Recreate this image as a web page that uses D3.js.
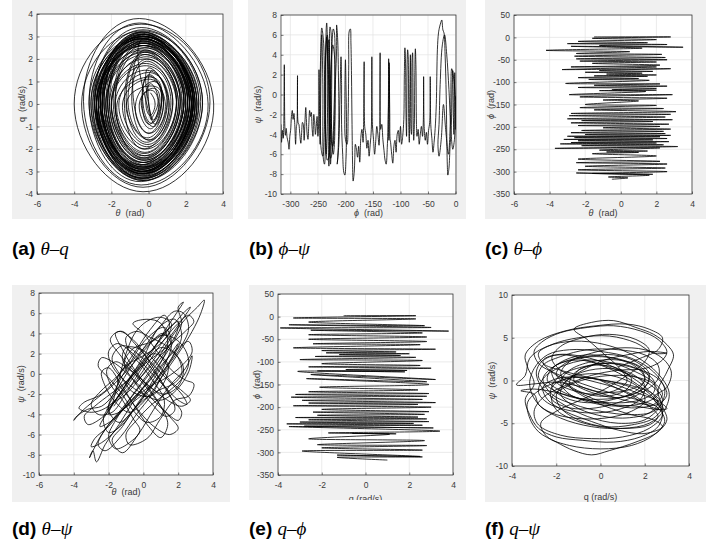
<!DOCTYPE html>
<html>
<head>
<meta charset="utf-8">
<script src="https://cdn.jsdelivr.net/npm/d3@7"></script>
<style>
  body { margin: 0; background: #fff; }
  svg { display: block; }
</style>
</head>
<body>
<svg id="fig" width="706" height="542"></svg>
<script>
// =========================
// TICKS / DOMAINS
// =========================
const ticksTheta = [-6, -4, -2, 0, 2, 4];
const ticksQ = [-4, -3, -2, -1, 0, 1, 2, 3, 4];
const ticksQ4 = [-4, -2, 0, 2, 4];
const ticksPhiX = [-300, -250, -200, -150, -100, -50, 0];
const ticksPhi = [-350, -300, -250, -200, -150, -100, -50, 0, 50];
const ticksPsi = [-10, -8, -6, -4, -2, 0, 2, 4, 6, 8];
const ticksPsi10 = [-10, -5, 0, 5, 10];
const domPhiX = [-317, 0.8];

const captionTags = ['(a)', '(b)', '(c)', '(d)', '(e)', '(f)'];
const captionVars = ['θ–q', 'ϕ–ψ', 'θ–ϕ', 'θ–ψ', 'q–ϕ', 'q–ψ'];

// =========================
// TRAJECTORIES
// =========================

// (a) theta vs q : loops, top -> right -> bottom -> left
const thetaQ = [
  [0.1,0.5],[0.35,0.0],[0.1,-0.5],[-0.15,0.05],
  [0.1,0.9],[0.55,0.0],[0.05,-0.9],[-0.35,0.0],
  [0.0,1.3],[0.8,0.1],[0.0,-1.3],[-0.7,0.0],
  [0.3,1.0],[0.7,0.0],[0.35,-0.9],[0.0,0.1],
  [0.2,1.5],[1.0,0.0],[0.0,-1.6],[-0.9,0.1],
  [-0.1,1.9],[1.3,0.1],[-0.2,-2.0],[-1.3,0.0],
  [-0.2,2.3],[1.6,0.0],[-0.3,-2.4],[-1.8,0.1],
  [-0.3,2.6],[1.9,0.1],[-0.3,-2.7],[-2.2,0.0],
  [-0.3,2.9],[2.2,0.0],[-0.4,-3.0],[-2.5,0.1],
  [-0.4,3.1],[2.4,0.1],[-0.4,-3.2],[-2.8,0.0],
  [-0.3,2.8],[2.1,0.0],[-0.3,-2.9],[-2.4,0.0],
  [-0.3,3.2],[2.6,0.0],[-0.3,-3.3],[-2.9,0.1],
  [-0.4,3.4],[2.9,0.1],[-0.4,-3.45],[-3.2,0.0],
  [-0.5,3.6],[3.2,0.0],[-0.4,-3.6],[-3.5,0.1],
  [-0.5,3.8],[3.5,0.0],[-0.3,-3.9],[-4.0,0.0],
  [-0.4,3.55],[3.3,0.1],[-0.3,-3.7],[-3.6,0.0],
  [-0.3,3.25],[2.9,0.0],[-0.3,-3.4],[-3.2,0.1],
  [-0.3,3.0],[2.5,0.0],[-0.4,-3.1],[-2.8,0.0],
  [-0.2,2.7],[2.1,0.1],[-0.3,-2.85],[-2.4,0.0],
  [-0.3,3.1],[2.3,0.0],[-0.3,-3.0],[-2.6,0.1],
  [-0.4,2.9],[2.5,0.0],[-0.4,-3.3],[-2.7,0.0],
  [-0.3,2.6],[2.0,0.1],[-0.2,-2.6],[-2.3,0.0],
  [-0.2,2.2],[1.7,0.0],[-0.2,-2.3],[-2.0,0.1],
  [-0.1,1.8],[1.3,0.0],[-0.1,-1.9],[-1.6,0.0],
  [0.0,1.4],[1.0,0.1],[0.0,-1.5],[-1.1,0.0],
  [-0.1,2.0],[1.5,0.0],[-0.2,-2.2],[-1.8,0.0],
  [-0.2,2.5],[1.9,0.1],[-0.3,-2.6],[-2.2,0.0],
  [-0.3,2.8],[2.2,0.0],[-0.3,-2.9],[-2.6,0.1],
  [-0.4,3.15],[2.4,0.0],[-0.3,-3.1],[-2.9,0.0],
  [-0.3,3.0],[2.7,0.1],[-0.4,-3.25],[-3.0,0.0],
  [-0.3,2.9],[2.4,0.0],[-0.3,-2.8],[-2.8,0.1],
  [-0.2,2.6],[2.1,0.0],[-0.4,-2.7],[-2.5,0.0],
  [-0.3,3.0],[2.3,0.1],[-0.3,-3.1],[-2.7,0.0],
  [-0.2,2.4],[1.9,0.0],[-0.3,-2.5],[-2.1,0.1],
  [-0.1,2.0],[1.5,0.0],[-0.2,-2.0],[-1.7,0.0],
  [0.1,1.2],[0.7,0.1],[0.1,-1.1],[-0.5,0.0],
  [0.3,0.7],[0.6,0.0],[0.3,-0.7],[0.0,0.0],
  [0.0,1.6],[1.1,0.0],[-0.1,-1.7],[-1.2,0.1],
  [-0.2,2.2],[1.6,0.1],[-0.2,-2.3],[-1.9,0.0],
  [-0.3,2.7],[2.0,0.0],[-0.3,-2.8],[-2.3,0.0],
  [-0.3,3.0],[2.3,0.0],[-0.4,-3.0],[-2.6,0.1],
  [-0.4,3.2],[2.6,0.1],[-0.4,-3.3],[-2.9,0.0],
  [-0.3,2.9],[2.4,0.0],[-0.3,-3.0],[-2.7,0.0],
  [-0.3,2.75],[2.2,0.1],[-0.3,-2.85],[-2.5,0.0],
  [-0.2,2.5],[1.8,0.0],[-0.3,-2.6],[-2.2,0.1],
  [-0.3,2.95],[2.1,0.0],[-0.3,-2.95],[-2.5,0.0],
  [-0.2,2.3],[1.7,0.1],[-0.2,-2.4],[-2.0,0.0],
  [-0.1,1.7],[1.2,0.0],[-0.1,-1.8],[-1.4,0.0],
  [0.1,1.1],[0.8,0.0],[0.2,-1.0],[-0.4,0.1],
  [0.2,0.6],[0.5,0.0],[0.2,-0.6],[-0.1,0.0],
  [-0.3,2.9],[2.3,0.1],[-0.3,-3.05],[-2.7,0.0],
  [-0.4,3.2],[2.5,0.0],[-0.3,-3.2],[-2.9,0.1],
  [-0.3,3.0],[2.2,0.1],[-0.4,-3.1],[-2.6,0.0],
  [-0.2,2.7],[2.0,0.0],[-0.3,-2.75],[-2.4,0.1],
  [-0.3,2.85],[2.4,0.1],[-0.3,-3.0],[-2.8,0.0],
  [-0.4,3.1],[2.6,0.0],[-0.4,-3.35],[-3.0,0.1],
  [-0.3,3.3],[2.8,0.1],[-0.3,-3.4],[-3.1,0.0],
  [-0.3,3.0],[2.4,0.0],[-0.4,-3.15],[-2.8,0.0],
  [-0.2,2.6],[1.9,0.1],[-0.2,-2.7],[-2.3,0.0],
  [-0.2,2.35],[1.7,0.0],[-0.3,-2.45],[-2.0,0.1],
  [-0.1,2.1],[1.5,0.1],[-0.2,-2.15],[-1.8,0.0],
  [-0.1,1.5],[1.1,0.0],[0.0,-1.6],[-1.2,0.0],
  [0.2,0.8],[0.7,0.1],[0.2,-0.85],[-0.3,0.0],
  [0.0,1.25],[0.9,0.0],[0.1,-1.3],[-0.8,0.1],
  [-0.2,2.4],[1.8,0.0],[-0.2,-2.5],[-2.1,0.0],
  [-0.3,2.8],[2.3,0.1],[-0.3,-2.9],[-2.6,0.0],
  [-0.4,3.05],[2.5,0.0],[-0.4,-3.1],[-2.8,0.1],
  [-0.3,2.7],[2.2,0.0],[-0.3,-2.8],[-2.5,0.0],
  [-0.2,3.1],[2.7,0.0],[-0.3,-3.3],[-3.1,0.1],
  [-0.3,2.9],[2.4,0.1],[-0.3,-3.0],[-2.7,0.0]
];

// (b) phi vs psi
const phiPsi = [
  [-317,-3.0],[-316,-4.8],[-314.5,-3.6],[-313,-4.4],[-312,-3.2],[-311,3.0],[-310,-3.2],[-309,-4.1],
  [-307.5,-3.4],[-306,-4.3],[-304,-4.8],[-302.5,-5.5],[-301,-4.2],[-299.5,-3.6],[-298,-2.2],[-296.5,-1.6],
  [-295,-2.5],[-293.5,-1.9],[-292,-3.0],[-290.5,-5.0],[-289,-3.2],[-288,-2.9],[-287,1.9],[-286,-2.8],
  [-284.5,-3.0],[-283,-3.9],[-281,-4.9],[-279.5,-3.8],[-278,-2.8],[-276.5,-3.0],[-275,-4.6],[-273.5,-2.7],
  [-272,-1.3],[-271,-2.4],[-269.5,-4.0],[-268,-4.5],[-266.5,-3.0],[-265,-1.6],[-263.5,-2.2],[-262,-1.8],
  [-260.5,-3.4],[-259,-4.2],[-257.5,-2.0],[-256,-2.6],[-254.5,-4.0],[-253,-3.2],[-251.5,-2.2],[-250,-4.2],
  [-249,-3.5],[-248,2.5],[-247,-2.0],
  [-246,-5.0],[-244,4.6],[-243,6.0],[-241,1.0],[-240,-6.5],[-238,-7.0],[-236,-2.0],[-235,6.5],
  [-234,7.2],[-232,3.0],[-231,-5.5],[-230,-7.2],[-229,-3.0],[-228,6.8],[-226,6.2],[-227,-1.0],
  [-229,-6.0],[-233,-6.6],[-236,-4.0],[-238,2.0],[-240,5.5],[-243,6.7],[-245,4.0],[-246,-1.0],
  [-244,-5.5],[-241,-6.2],[-238,-3.0],[-236,3.5],[-234,5.8],[-232,2.0],[-233,-3.0],[-235,-6.0],
  [-237,-2.0],[-236,4.2],[-233,6.0],[-230,3.5],[-229,-4.0],[-227,-7.0],[-226,-5.5],[-225,0.5],
  [-224,5.5],[-222,6.6],[-220,6.2],[-219,3.0],[-221,-2.0],[-224,-5.8],[-227,-6.4],[-229,-2.0],
  [-231,2.5],[-232,4.8],[-230,5.5],[-228,2.0],[-225,-3.5],[-222,-6.0],[-220,-5.0],[-219,-1.0],
  [-220,4.0],[-223,5.0],[-226,3.0],[-228,-1.0],[-226,-4.5],[-223,-5.2],[-220,-3.2],[-218,1.5],
  [-216,4.6],[-216,7.0],[-214,5.5],[-213,3.0],[-212,-2.5],[-214,-6.5],[-215,-7.0],[-212,-5.0],
  [-210,-0.5],[-208,3.8],[-207,1.0],[-207,-3.0],
  [-205,-6.0],[-203,-7.8],[-201,-8.1],[-199,-6.5],[-198,-4.0],[-199,1.0],[-200,3.5],[-201,-1.0],
  [-200,-4.5],[-197,-5.0],[-195,-2.0],[-194,3.0],[-193,6.4],[-191,6.6],[-190,5.2],[-189,2.0],
  [-188,-3.0],[-187,-7.0],[-186,-8.7],[-184,-7.8],[-183,-6.5],[-182,-5.0],
  [-180,-5.5],[-178,-6.3],[-176,-5.2],[-174,-6.8],[-172,-4.3],[-170,-3.5],[-168,-4.8],[-167,-3.0],
  [-166,3.3],[-165,-3.2],[-163,-4.0],[-161,-5.4],[-159,-4.6],[-157,-6.2],[-155,-5.0],[-153,-3.5],
  [-152,3.8],[-151,-3.0],[-149,-4.5],[-147,-6.0],[-145,-4.7],[-143,-3.2],[-141,-4.0],[-139,-5.1],
  [-137.5,-3.0],[-137,4.2],[-136,-3.5],[-134,-3.0],[-132,-4.5],[-130,-5.6],[-128,-6.6],[-126,-7.0],
  [-124,-5.3],[-123,-3.8],[-122,-1.0],[-121.5,3.6],[-121,2.0],[-122,-3.0],[-121,-4.6],[-120,1.0],
  [-120.5,3.2],[-119.5,-2.0],[-119,-4.4],[-118,-4.8],
  [-116,-6.0],[-114,-6.9],[-112,-5.2],[-110,-4.6],[-108,-5.8],[-106,-4.0],[-104,-3.6],[-102,-4.8],
  [-100,-3.2],[-98,-5.0],[-96,-4.2],[-94,-2.5],
  [-93,2.0],[-92,4.7],[-91,3.6],[-90,-2.0],[-89,-4.2],[-88,3.0],[-87,4.5],[-86,3.8],
  [-85,-3.0],[-84,-4.8],[-83,0.5],[-82,4.0],[-81,-3.5],[-80,-4.0],[-79,3.5],[-78,4.2],
  [-77,-2.0],[-76,-4.6],[-75,-3.5],[-74,2.0],[-73,4.6],[-72,3.0],[-71,-3.0],[-70,-4.2],
  [-68,-3.5],[-66,-5.0],
  [-64,-4.0],[-62,-3.2],[-60,-4.2],[-58.5,-2.5],[-58,1.8],[-57,-3.2],[-55,-4.6],[-53,-3.8],
  [-51,-5.0],[-49,-3.6],[-47,-2.8],[-46,1.8],[-45,-3.0],[-43,-4.4],[-41,-5.8],[-39,-4.8],
  [-37,-3.4],
  [-35,-1.0],[-33,4.5],[-31,6.2],[-29,6.8],[-27,7.2],[-25,7.5],[-23,6.5],[-21,6.2],
  [-19,4.0],[-17,0.0],[-16,-4.0],[-15,-7.0],[-14,-8.1],[-12,-7.4],[-10,-5.2],[-8,-3.6],
  [-6,1.0],[-5,2.4],[-4,-2.0],[-3,-4.0],[-2,0.5],[-1.5,2.2],[-1,-1.0],[-0.5,-3.5],
  [0,-0.2],[0,-2.0],[-2,-4.5],[-5,-5.5],[-8,-4.0],[-12,0.5],[-16,4.0],[-20,6.0],
  [-24,5.0],[-28,1.0],[-30,-3.0],[-32,-5.0],[-30,-6.2],[-26,-4.5],[-22,-1.0],[-18,-3.5],
  [-13,-6.0],[-9,-2.0],[-7,2.6],[-3,1.5],[0,-0.5]
];

// (c) theta vs phi : swing turning points
const thetaPhi = [
  [-1.5,1],[2.8,1],[-1.6,-2],[2.0,-5],[-2.4,-9],[1.5,-12],[-3.0,-14],[2.6,-16],
  [-1.2,-18],[3.5,-22],[-2.8,-20],[1.2,-24],[-4.2,-29],[0.5,-32],[-2.5,-36],[2.3,-38],
  [-2.6,-42],[2.5,-45],[-2.5,-48],[2.6,-50],[-2.3,-53],[2.0,-55],[-1.6,-58],[2.2,-62],
  [-2.8,-66],[2.0,-66],[-3.3,-72],[2.8,-70],[-1.2,-74],[1.8,-76],[-2.0,-78],[1.2,-80],
  [-0.8,-82],[2.0,-84],[-1.5,-86],[1.5,-87],[-2.4,-90],[1.0,-92],[-1.8,-94],[1.6,-96],
  [-3.1,-103],[2.2,-104],[-1.5,-107],[2.6,-109],[-2.4,-112],[2.0,-114],[-0.5,-117],[2.0,-118],
  [-1.2,-119],[1.4,-121],[-2.9,-128],[2.9,-128],[-2.3,-133],[2.6,-136],[-1.0,-140],[1.0,-142],
  [-2.0,-150],[2.0,-152],[-2.3,-157],[2.4,-159],[-1.5,-162],[3.1,-166],[-2.8,-170],[2.8,-172],
  [-2.9,-175],[2.5,-178],[-3.0,-182],[2.9,-184],[-2.2,-186],[1.8,-188],[-2.8,-191],[2.7,-194],
  [-2.4,-197],[2.2,-199],[-1.0,-202],[2.8,-205],[-2.2,-208],[2.4,-210],[-2.8,-213],[2.5,-215],
  [-2.0,-217],[2.8,-219],[-3.0,-221],[2.2,-222],[-2.6,-224],[2.6,-226],[-3.2,-228],[1.8,-229],
  [-2.4,-231],[2.7,-233],[-2.8,-235],[2.0,-236],[-3.4,-238],[2.4,-240],[-2.2,-242],[3.2,-244],
  [-3.7,-248],[2.2,-247],[-1.2,-252],[1.5,-254],[-0.8,-256],[1.0,-257],[-1.6,-260],[2.0,-265],
  [-2.4,-272],[2.2,-277],[-2.5,-280],[2.6,-283],[-2.0,-288],[2.5,-292],[-2.4,-296],[2.6,-300],
  [-1.6,-304],[1.8,-306],[-2.5,-303],[1.6,-308],[-0.7,-312],[0.4,-314],[-0.5,-317]
];

// (d) theta vs psi
const thetaPsi = [
  [-0.5,-1.0],[0.8,1.5],[1.6,3.2],[1.2,4.6],[0.2,3.5],[-0.8,1.0],[-1.6,-1.5],[-2.0,-3.5],
  [-1.4,-4.8],[-0.3,-3.0],[0.6,-0.5],[1.5,1.8],[2.0,3.0],[1.6,1.5],[0.5,-1.2],[-0.6,-2.8],
  [-1.5,-4.0],[-2.2,-5.5],[-2.6,-7.0],[-2.2,-7.6],[-1.3,-6.2],[-0.4,-4.0],[0.5,-2.0],[1.3,0.5],
  [2.2,2.8],[2.6,4.5],[2.3,6.0],[1.8,6.2],[1.0,4.8],[0.0,2.5],[-0.9,0.2],[-1.7,-2.0],
  [-2.4,-3.2],[-3.2,-3.5],[-3.9,-4.3],[-4.0,-4.6],[-3.6,-3.8],[-2.8,-2.6],[-1.8,-1.2],[-0.7,0.8],
  [0.3,2.8],[1.1,4.0],[1.6,3.0],[1.2,0.8],[0.4,-1.5],[-0.5,-3.4],[-1.2,-5.2],[-1.8,-6.6],
  [-1.2,-7.8],[-0.3,-6.0],[0.6,-3.5],[1.5,-1.2],[2.4,0.5],[2.8,1.8],[2.6,0.2],[1.9,-1.6],
  [1.0,-2.6],[0.0,-2.0],[-1.0,-0.8],[-1.8,0.8],[-2.0,2.2],[-1.5,3.0],[-0.6,2.0],[0.4,0.2],
  [1.3,-1.4],[2.0,-2.6],[2.5,-3.0],[2.2,-2.0],[1.4,-0.6],[0.4,1.2],[-0.5,3.0],[-1.2,4.2],
  [-1.6,4.0],[-1.2,2.4],[-0.5,0.4],[0.3,-1.4],[1.0,-3.2],[1.4,-5.0],[1.0,-6.3],[0.3,-5.2],
  [-0.5,-3.2],[-1.3,-1.0],[-2.0,0.6],[-2.4,0.2],[-2.2,-1.2],[-1.6,-2.8],[-0.8,-3.8],[0.2,-2.4],
  [1.1,-0.2],[2.0,2.0],[2.8,4.2],[3.3,6.0],[3.5,7.3],[3.1,6.6],[2.4,5.4],[1.6,3.6],
  [0.8,1.4],[0.0,-0.6],[-0.8,-2.5],[-1.6,-4.2],[-2.4,-6.0],[-3.1,-8.3],[-2.9,-7.6],[-2.7,-8.7],
  [-2.2,-7.0],[-1.4,-5.0],[-0.6,-2.8],[0.2,-0.8],[1.0,1.2],[1.8,3.4],[2.2,5.0],[2.0,6.6],
  [2.3,7.1],[1.9,6.0],[1.2,4.2],[0.5,2.2],[-0.3,0.0],[-1.1,-2.2],[-1.8,-3.8],[-2.6,-4.0],
  [-3.0,-3.0],[-2.5,-1.8],[-1.6,-0.4],[-0.7,1.2],[0.2,2.8],[1.0,3.8],[1.8,3.5],[2.4,2.4],
  [2.6,1.0],[2.2,-0.5],[1.4,-1.8],[0.5,-3.0],[-0.4,-4.6],[-1.0,-6.0],[-0.8,-7.0],[0.2,-6.4],
  [1.0,-4.4],[1.8,-2.6],[2.6,-2.2],[2.9,-1.0],[2.4,-0.6],[1.6,0.4],[0.8,2.2],[0.0,4.0],
  [-0.6,5.0],[0.2,5.4],[1.0,5.0],[1.4,3.0],[0.9,0.8],[0.0,-1.4],[-0.9,-3.0],[-1.8,-4.6],
  [-2.5,-5.2],[-2.0,-3.6],[-1.2,-1.6],[-0.3,0.5],[0.6,2.0],[1.4,1.0],[1.2,-0.8],[0.4,-2.2],
  [-0.6,-1.8],[-1.3,-0.2],[-1.8,1.6],[-1.2,2.8],[-0.2,1.8],[0.7,0.0],[1.5,-2.0],[1.8,-3.6],
  [1.3,-4.2],[0.4,-2.8],[-0.5,-0.8],[-1.1,1.0],[-0.6,2.5],[0.5,3.2],[1.5,4.5],[2.4,6.2],
  [2.7,6.6],[2.0,4.8],[1.0,2.4],[0.0,0.0],[-1.0,-2.0],[-1.8,-3.0],
  [-2.3,-4.4],[-2.0,-5.8],[-1.2,-5.0],[-0.2,-2.6],[0.7,-0.6],[1.6,1.4],[2.2,3.8],[1.8,5.4],
  [0.9,4.6],[0.1,2.0],[-0.7,-0.2],[-1.5,-2.4],[-2.1,-3.6],[-1.7,-2.2],[-0.9,-0.6],[0.0,1.4],
  [0.9,3.2],[1.5,4.8],[1.2,5.8],[0.4,4.4],[-0.4,2.4],[-1.2,0.4],[-1.9,-1.2],[-2.6,-2.2],
  [-3.4,-2.8],[-3.7,-3.4],[-3.0,-3.8],[-2.2,-3.4],[-1.4,-2.2],[-0.6,-0.4],[0.3,1.6],[1.0,2.6],
  [1.8,2.0],[2.3,0.6],[2.0,-1.2],[1.2,-2.0],[0.3,-1.2],[-0.6,0.4],[-1.4,2.0],[-1.9,3.4],
  [-1.4,4.2],[-0.6,3.4],[0.2,1.6],[0.9,-0.4],[1.6,-2.4],[2.2,-3.8],[2.0,-4.6],[1.2,-3.6],
  [0.4,-1.8],[-0.5,0.0],[-1.2,1.4],[-1.0,2.6],[-0.1,2.4],[0.8,1.0],[1.6,-0.8],[2.3,-1.8],
  [2.7,-2.6],[2.2,-3.2],[1.2,-2.4],[0.2,-1.0],[-0.8,0.4],[-1.6,1.2],[-2.1,0.4],[-1.9,-1.0],
  [-1.2,-2.6],[-0.6,-4.4],[-0.2,-5.6],[-0.8,-6.8],[-1.6,-7.4],[-2.0,-6.2],[-1.6,-4.6],[-0.9,-2.8],
  [-0.1,-1.0],[0.7,0.8],[1.4,2.6],[1.9,4.0],[2.0,5.2],[1.4,4.4],[0.6,2.6],[-0.2,0.8],
  [-1.0,-1.0],[-1.6,-2.6],[-2.0,-4.0],[-1.4,-3.8],[-0.6,-2.4],[0.4,-0.6],[1.2,1.2],[1.9,2.4],
  [2.6,3.2],[2.8,2.2],[2.2,0.8],[1.3,-0.4],[0.4,-1.2],[-0.6,-2.6],[-1.4,-4.0],[-2.0,-5.2],
  [-2.8,-6.4],[-3.0,-7.2],[-2.4,-6.8],[-1.6,-5.6],[-0.8,-4.0],[0.0,-2.6],[0.9,-1.6],[1.7,-1.0],
  [2.2,0.0],[2.0,1.6],[1.3,2.8],[0.4,3.6],[-0.4,4.2],[-1.0,3.6],[-0.8,2.2],[-0.1,0.8],
  [0.6,-0.8],[1.2,-2.6],[1.0,-4.2],[0.2,-4.8],[-0.6,-3.6],[-1.3,-1.8],[-2.0,-0.4],[-2.6,0.8],
  [-2.4,1.6],[-1.6,1.0],[-0.8,-0.2],[0.0,-1.6],[0.8,-3.0],[1.6,-4.4],[2.0,-5.4],[1.5,-6.0],
  [0.6,-5.2],[-0.2,-3.8],[-0.9,-2.2],[-1.5,-0.6],[-1.0,0.8],[-0.2,1.6],[0.7,2.6],[1.4,3.8],
  [1.6,5.0],[1.0,5.6],[0.2,5.2],[-0.5,4.0],[-1.0,2.0],[-1.3,0.2],[-1.6,-1.8],[-1.9,-3.4],
  [-2.6,-4.6],[-3.2,-5.0],[-3.4,-4.2],[-2.8,-3.2],[-1.9,-2.0],[-1.0,-0.8],[-0.2,0.6],[0.7,1.8],
  [1.6,3.0],[2.4,4.2],[2.9,5.2],[2.6,5.8],[2.0,5.0],[1.2,3.4],[0.4,1.4],[-0.4,-0.6],
  [-1.2,-2.0],[-1.7,-3.2]
];

// (e) q vs phi : swing turning points
const qPhi = [
  [-1.0,2],[2.3,2],[-3.3,-3],[2.3,-5],[-2.6,-12],[2.7,-20],[-3.5,-18],[3.0,-24],
  [-3.9,-25],[3.8,-32],[-2.5,-30],[2.6,-36],[-2.6,-40],[2.8,-45],[-2.6,-50],[2.8,-55],
  [-2.4,-60],[2.5,-62],[-3.3,-69],[3.2,-72],[-2.0,-75],[1.4,-78],[-1.8,-80],[2.0,-82],
  [-1.2,-84],[1.6,-86],[-2.3,-88],[2.3,-90],[-3.0,-95],[2.6,-97],[-2.0,-104],[2.5,-108],
  [-2.6,-111],[3.0,-114],[-0.9,-117],[1.9,-119],[-2.2,-120],[1.8,-122],[-3.1,-121],[3.2,-139],
  [-2.5,-128],[2.8,-144],[-2.7,-137],[2.9,-150],[-2.1,-156],[2.4,-162],[-2.6,-166],[2.9,-170],
  [-3.2,-172],[2.8,-176],[-3.4,-178],[2.6,-183],[-2.9,-185],[3.2,-190],[-2.6,-191],[2.4,-194],
  [-3.3,-197],[3.0,-200],[-2.0,-205],[2.9,-210],[-2.4,-211],[2.7,-216],[-2.2,-218],[2.4,-222],
  [-3.2,-223],[2.8,-226],[-2.6,-228],[2.9,-232],[-3.0,-233],[2.2,-236],[-3.6,-237],[2.6,-240],
  [-2.8,-242],[3.1,-246],[-3.5,-243],[3.4,-253],[-1.7,-257],[1.4,-259],[-0.6,-258],[1.1,-260],
  [-2.6,-270],[2.7,-274],[-2.2,-283],[2.8,-285],[-2.0,-290],[2.6,-295],[-2.9,-297],[2.5,-309],
  [-1.3,-306],[2.6,-310],[-1.3,-311],[1.0,-317]
];

// (f) q vs psi
const qPsi = [
  [0.0,0.0],[1.2,-1.5],[2.2,-3.0],[2.8,-3.4],[2.4,-2.0],[1.4,0.0],[0.2,1.6],[-1.0,2.4],
  [-2.0,1.8],[-2.6,0.2],[-2.2,-1.6],[-1.2,-2.8],[0.0,-3.6],[1.4,-4.0],[2.4,-3.6],[2.8,-2.2],
  [2.2,-0.4],[1.0,1.0],[-0.4,2.2],[-1.6,3.0],[-2.5,2.6],[-2.9,1.0],[-2.6,-1.0],[-1.8,-2.6],
  [-0.6,-4.2],[0.8,-5.0],[2.0,-4.6],[2.7,-3.0],[2.9,-1.0],[2.4,1.0],[1.4,2.6],[0.0,3.4],
  [-1.4,3.6],[-2.4,3.0],[-3.0,1.4],[-3.2,-0.6],[-2.8,-2.8],[-1.8,-4.4],[-0.4,-5.4],[1.0,-5.6],
  [2.2,-5.0],[2.9,-3.4],[3.1,-1.4],[2.6,0.8],[1.6,2.8],[0.2,4.2],[-1.2,4.6],[-2.4,4.0],
  [-3.2,2.6],[-3.4,0.6],[-3.8,-0.5],[-3.0,-0.4],[-2.0,-0.2],[-0.8,-0.8],[0.4,-1.8],[1.6,-2.6],
  [2.6,-2.8],[3.0,-1.6],[2.6,0.2],[1.6,1.4],[0.4,2.0],[-0.8,1.6],[-1.8,0.6],[-2.2,-0.8],
  [-1.6,-2.0],[-0.6,-2.6],[0.6,-2.2],[1.6,-1.2],[2.0,0.2],[1.6,1.6],[0.6,2.6],[-0.6,3.0],
  [-1.6,2.4],[-2.2,1.2],[-2.0,-0.2],[-1.2,-1.2],[-0.2,-1.6],[0.8,-1.0],[1.2,0.0],[0.8,1.6],
  [0.2,3.0],[-0.6,4.8],[-1.2,6.0],[-0.4,6.8],[0.6,7.0],[1.6,6.2],[2.4,5.4],[3.0,4.2],
  [3.3,3.0],[3.0,1.0],[2.6,-1.2],[2.8,-3.0],[3.0,-4.6],[2.6,-6.0],[1.6,-7.2],[0.4,-8.2],
  [-0.4,-8.7],[-1.2,-8.2],[-2.0,-7.2],[-2.8,-6.0],[-3.2,-4.4],[-3.3,-2.6],[-2.8,-1.2],[-2.0,-0.2],
  [-1.0,0.4],[0.2,0.0],[1.4,-0.8],[2.4,-2.2],[2.8,-4.0],[2.2,-5.6],[1.0,-6.6],[-0.4,-6.8],
  [-1.8,-6.4],[-2.8,-5.2],[-3.0,-3.6],[-2.6,-2.0],[-1.6,-0.6],[-0.4,0.6],[0.8,1.2],[2.0,1.4],
  [2.8,2.4],[3.0,3.4],[2.6,4.8],[1.8,5.8],[0.6,6.4],[-0.6,6.2],[-1.8,5.6],[-2.6,4.6],
  [-3.0,3.4],[-2.8,2.0],[-2.0,0.8],[-0.8,-0.4],[0.4,-1.4],[1.6,-2.2],[2.6,-3.2],[2.9,-4.8],
  [2.4,-6.4],[1.4,-7.6],[0.0,-8.0],[-1.4,-7.6],[-2.4,-6.6],[-2.7,-5.0],[-2.0,-3.6],[-1.0,-2.4],
  [0.2,-1.0],[1.2,0.6],[2.0,2.2],[2.2,3.6],[1.6,4.8],[0.4,5.4],[-0.8,5.0],[-1.8,4.0],
  [-2.2,2.6],[-1.8,1.2],[-0.8,0.2],[0.4,-0.6],[1.4,-1.6],[2.2,-3.0],[2.6,-4.2],[2.2,-5.2],
  [1.2,-5.6],[0.0,-5.4],[-1.2,-4.6],[-2.0,-3.4],[-2.2,-2.0],[-1.6,-0.8],[-0.6,0.2],[0.6,0.6],
  [1.6,0.4],[2.4,-0.4],[2.6,-1.6],[2.0,-2.6],[0.8,-3.0],[-0.4,-2.6],[-1.4,-1.6],[-1.8,-0.2],
  [-1.4,1.2],[-0.4,2.2],[0.8,2.4],[1.8,1.6],[2.2,0.2],
  [1.8,-1.2],[0.8,-2.0],[-0.4,-1.4],[-1.4,-0.2],[-2.2,1.0],[-2.6,2.2],[-2.0,3.0],[-0.8,2.8],
  [0.4,1.8],[1.4,0.4],[2.2,-1.2],[2.6,-2.6],[2.2,-3.8],[1.0,-4.4],[-0.2,-4.0],[-1.2,-3.0],
  [-1.8,-1.6],[-1.6,-0.2],[-0.8,1.0],[0.4,1.4],[1.4,0.8],[2.0,-0.6],[1.8,-2.2],[0.8,-3.4],
  [-0.4,-3.8],[-1.6,-3.4],[-2.4,-2.6],[-2.8,-1.4],[-2.6,0.2],[-1.8,1.6],[-0.6,2.4],[0.6,2.0],
  [1.6,1.0],[2.4,-0.2],[2.8,-1.6],[2.4,-2.8],[1.4,-3.2],[0.2,-2.6],[-0.8,-1.6],[-1.6,-0.4],
  [-2.0,0.8],[-1.6,2.0],[-0.6,2.8],[0.6,3.0],[1.6,2.2],[2.2,0.8],[2.0,-0.8],[1.2,-1.8],
  [0.0,-2.2],[-1.2,-2.0],[-2.2,-1.0],[-2.8,0.4],[-2.6,1.8],[-1.8,2.8],[-0.6,3.6],[0.8,3.6],
  [2.0,3.0],[2.6,1.8],[2.6,0.2],[2.0,-1.2],[1.0,-2.4],[-0.2,-3.2],[-1.4,-3.2],[-2.2,-2.2],
  [-2.2,-0.8],[-1.4,0.4],[-0.2,0.8],[1.0,0.2],[1.8,-1.0],[2.0,-2.4],[1.4,-3.6],[0.2,-4.4],
  [-1.2,-4.4],[-2.2,-3.8],[-2.8,-2.8],[-3.0,-1.6],[-3.6,-1.2],[-3.0,-1.0],[-2.0,-1.4],[-0.8,-2.2],
  [0.4,-2.8],[1.6,-3.0],[2.6,-3.4],[3.0,-3.3],[2.6,-2.4],[1.6,-1.4],[0.6,-0.4],[-0.6,0.4],
  [-1.8,1.2],[-2.6,2.0],[-2.8,3.2],[-2.2,4.2],[-1.0,5.0],[0.4,5.2],[1.6,4.4],[2.4,3.2],
  [3.0,3.2],[2.2,3.4],[1.2,3.0],[0.2,2.4],[-0.8,1.2],[-1.6,-0.2],[-2.0,-1.8],[-1.8,-3.2],
  [-1.0,-4.6],[0.2,-5.4],[1.4,-5.2],[2.4,-4.4],[2.8,-3.0],[2.4,-1.6],[1.4,-0.6],[0.2,0.0],
  [-1.0,0.4],[-2.0,0.2],[-2.6,-0.8],[-2.4,-2.2],[-1.6,-3.6],[-0.4,-4.8],[0.8,-5.8],[2.0,-6.2],
  [2.8,-5.4],[2.4,-4.6],[1.4,-4.0],[0.2,-3.0],[-0.8,-1.8],[-1.4,-0.6],[-1.2,0.8],[-0.4,1.8],
  [0.8,2.0],[1.8,1.2],[2.4,0.0],[2.4,-1.4],[1.6,-2.4],[0.4,-2.6],[-0.8,-2.2],[-1.8,-1.2],
  [-2.4,0.0],[-2.2,1.4],[-1.4,2.4],[-0.2,2.8],[1.0,2.4],[1.8,1.4],[2.0,0.0],[1.4,-1.0],
  [0.4,-1.4],[-0.6,-1.0],[-1.2,0.0],[-1.0,1.2],[-0.2,1.8],[0.8,1.4],[1.4,0.2],[1.2,-1.0],
  [0.4,-1.8],[-0.6,-1.6],[-1.4,-0.6],[-1.8,0.8],[-1.4,2.2],[-0.4,3.2],[0.8,3.8],[2.0,3.6],
  [2.8,2.6],[3.2,1.0],[3.0,-0.8],[2.4,-2.0],[2.8,-3.6],[2.6,-5.4],[1.8,-6.6],[0.6,-7.2],
  [-0.8,-7.0],[-2.0,-6.6],[-2.8,-5.6],[-3.2,-4.0],[-3.4,-2.2],[-3.0,-0.4],[-3.3,1.6],[-3.4,3.0],
  [-2.8,4.6],[-1.6,5.8],[-0.2,6.4],[1.2,6.6],[2.2,6.0],[2.8,5.0],[2.6,3.6],[1.8,2.6],
  [0.8,1.6]
];

// =========================
// LAYOUT
// =========================
const svg = d3.select('#fig');
const defs = svg.append('defs');

const panels = [
  { bg: [12, 0, 221, 219], box: [37, 14, 186, 180],
    xDom: [-6, 4], yDom: [-4, 4], xTicks: ticksTheta, yTicks: ticksQ,
    xLab: [['θ', true], ['  (rad)', false]], yLab: [['q  (rad/s)', false]],
    xLabY: 216, yLabX: 25, pts: thetaQ, curve: d3.curveNatural },
  { bg: [248, 0, 218, 219], box: [281, 15, 175, 179],
    xDom: domPhiX, yDom: [-10, 8], xTicks: ticksPhiX, yTicks: ticksPsi,
    xLab: [['ϕ', true], ['  (rad)', false]], yLab: [['ψ', true], ['  (rad/s)', false]],
    xLabY: 216, yLabX: 261, pts: phiPsi, curve: d3.curveCatmullRom },
  { bg: [485, 0, 221, 219], box: [514, 15, 178, 179],
    xDom: [-6, 4], yDom: [-350, 50], xTicks: ticksTheta, yTicks: ticksPhi,
    xLab: [['θ', true], ['  (rad)', false]], yLab: [['ϕ', true], ['  (rad)', false]],
    xLabY: 216, yLabX: 494, pts: thetaPhi, curve: d3.curveCatmullRom },
  { bg: [12, 285, 218, 217], box: [39, 293, 174, 182],
    xDom: [-6, 4], yDom: [-10, 8], xTicks: ticksTheta, yTicks: ticksPsi,
    xLab: [['θ', true], ['  (rad)', false]], yLab: [['ψ', true], ['  (rad/s)', false]],
    xLabY: 495, yLabX: 24, pts: thetaPsi, curve: d3.curveCatmullRom },
  { bg: [249, 285, 217, 215], box: [278, 294, 175, 181],
    xDom: [-4, 4], yDom: [-350, 50], xTicks: ticksQ4, yTicks: ticksPhi,
    xLab: [['q (rad/s)', false]], yLab: [['ϕ', true], ['  (rad)', false]],
    xLabY: 502, yLabX: 260, pts: qPhi, curve: d3.curveCatmullRom },
  { bg: [485, 285, 221, 217], box: [512, 295, 177, 171],
    xDom: [-4, 4], yDom: [-10, 10], xTicks: ticksQ4, yTicks: ticksPsi10,
    xLab: [['q (rad/s)', false]], yLab: [['ψ', true], ['  (rad/s)', false]],
    xLabY: 499.5, yLabX: 495, pts: qPsi, curve: d3.curveCatmullRom }
];

const captionPos = [[12, 255], [249, 255], [485, 255], [12, 535], [249, 535], [485, 535]];

function addLabel(sel, parts) {
  parts.forEach(([t, it]) => {
    sel.append('tspan')
      .style('font-style', it ? 'italic' : 'normal')
      .text(t);
  });
}

function drawPanel(p, i) {
  const [bx, by, bw, bh] = p.bg;
  const [x0, y0, w, h] = p.box;

  defs.append('clipPath').attr('id', 'bgc' + i)
    .append('rect').attr('x', bx).attr('y', by).attr('width', bw).attr('height', bh);
  defs.append('clipPath').attr('id', 'plc' + i)
    .append('rect').attr('x', x0).attr('y', y0).attr('width', w).attr('height', h);

  const g = svg.append('g').attr('clip-path', `url(#bgc${i})`);

  g.append('rect')
    .attr('x', bx).attr('y', by).attr('width', bw).attr('height', bh)
    .attr('fill', '#f0f0f0');

  g.append('rect')
    .attr('x', x0).attr('y', y0).attr('width', w).attr('height', h)
    .attr('fill', '#fff');

  const x = d3.scaleLinear().domain(p.xDom).range([x0, x0 + w]);
  const y = d3.scaleLinear().domain(p.yDom).range([y0 + h, y0]);

  // grid
  g.append('g').selectAll('line')
    .data(p.xTicks)
    .join('line')
    .attr('x1', d => x(d)).attr('x2', d => x(d))
    .attr('y1', y0).attr('y2', y0 + h)
    .attr('stroke', '#e2e2e2').attr('stroke-width', 0.7);

  g.append('g').selectAll('line')
    .data(p.yTicks)
    .join('line')
    .attr('x1', x0).attr('x2', x0 + w)
    .attr('y1', d => y(d)).attr('y2', d => y(d))
    .attr('stroke', '#e2e2e2').attr('stroke-width', 0.7);

  // trajectory
  const line = d3.line()
    .x(d => x(d[0]))
    .y(d => y(d[1]))
    .curve(p.curve);

  g.append('path')
    .datum(p.pts)
    .attr('clip-path', `url(#plc${i})`)
    .attr('d', line)
    .attr('fill', 'none')
    .attr('stroke', '#000')
    .attr('stroke-width', 0.8)
    .attr('stroke-linejoin', 'round');

  // axes
  const xAxis = g.append('g')
    .attr('transform', `translate(0, ${y0 + h})`)
    .call(d3.axisBottom(x).tickValues(p.xTicks).tickSizeInner(-2.5).tickSizeOuter(0)
      .tickPadding(7).tickFormat(d => String(d)));

  const yAxis = g.append('g')
    .attr('transform', `translate(${x0}, 0)`)
    .call(d3.axisLeft(y).tickValues(p.yTicks).tickSizeInner(-2.5).tickSizeOuter(0)
      .tickPadding(4).tickFormat(d => String(d)));

  [xAxis, yAxis].forEach(a => {
    a.select('.domain').remove();
    a.selectAll('line').attr('stroke', '#262626').attr('stroke-width', 0.6);
    a.selectAll('text')
      .attr('fill', '#3a3a3a')
      .style('font-family', '"Liberation Sans", Arial, sans-serif')
      .style('font-size', '8.5px');
  });

  // box
  g.append('rect')
    .attr('x', x0).attr('y', y0).attr('width', w).attr('height', h)
    .attr('fill', 'none')
    .attr('stroke', '#262626')
    .attr('stroke-width', 0.7);

  // axis labels
  const xl = g.append('text')
    .attr('x', x0 + w / 2)
    .attr('y', p.xLabY)
    .attr('text-anchor', 'middle')
    .attr('fill', '#3a3a3a')
    .style('font-family', '"Liberation Sans", Arial, sans-serif')
    .style('font-size', '9px')
    .style('white-space', 'pre');
  addLabel(xl, p.xLab);

  const yl = g.append('text')
    .attr('transform', `translate(${p.yLabX}, ${y0 + h / 2}) rotate(-90)`)
    .attr('text-anchor', 'middle')
    .attr('fill', '#3a3a3a')
    .style('font-family', '"Liberation Sans", Arial, sans-serif')
    .style('font-size', '9px')
    .style('white-space', 'pre');
  addLabel(yl, p.yLab);
}

panels.forEach(drawPanel);

// captions
captionTags.forEach((tag, i) => {
  const t = svg.append('text')
    .attr('x', captionPos[i][0])
    .attr('y', captionPos[i][1])
    .attr('fill', '#000')
    .style('white-space', 'pre');

  t.append('tspan')
    .style('font-family', '"Liberation Sans", Arial, sans-serif')
    .style('font-weight', 'bold')
    .style('font-size', '19px')
    .text(tag + ' ');

  t.append('tspan')
    .style('font-family', '"Liberation Serif", "Times New Roman", serif')
    .style('font-style', 'italic')
    .style('font-size', '19px')
    .text(captionVars[i]);
});
</script>
</body>
</html>
